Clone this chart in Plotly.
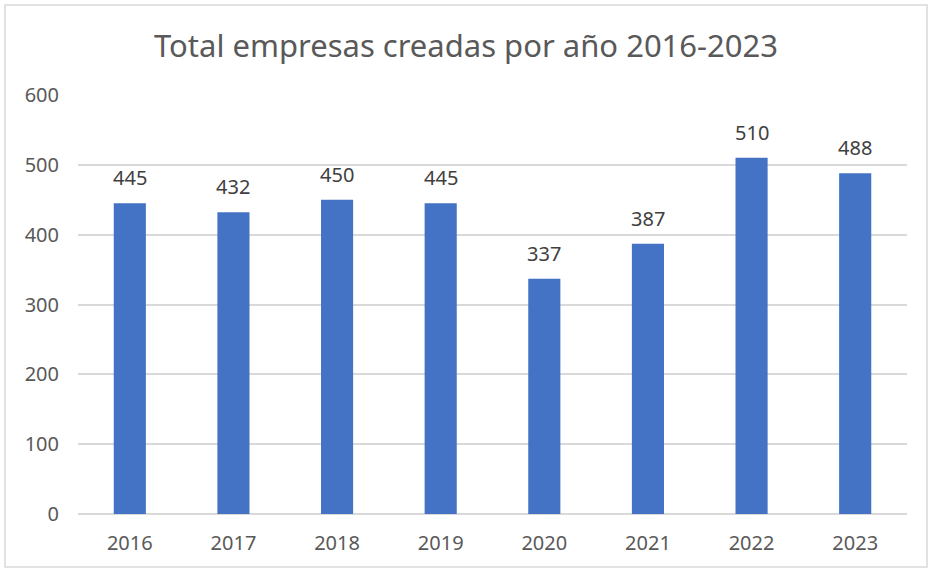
import plotly.graph_objects as go

years = ["2016", "2017", "2018", "2019", "2020", "2021", "2022", "2023"]
empresas = [445, 432, 450, 445, 337, 387, 510, 488]
y_ticks = [0, 100, 200, 300, 400, 500, 600]

W, H = 932, 571
L, R, T, B = 78, 25, 95, 57
pw, ph = W - L - R, H - T - B

def px_x(p):
    return (p - L) / pw

def px_y(p):
    return (H - B - p) / ph

fig = go.Figure(go.Bar(
    x=years, y=empresas,
    marker=dict(color="#4472C4", line=dict(width=0)),
    width=0.31,
    hoverinfo="x+y",
))

# category axis: annotation x uses the category index
for i, v in enumerate(empresas):
    fig.add_annotation(x=i, y=v, text=str(v), showarrow=False,
                       yanchor="bottom", yshift=10,
                       font=dict(size=20, color="#404040", family="Noto Sans"))

fig.update_layout(
    width=W, height=H,
    margin=dict(l=L, r=R, t=T, b=B),
    paper_bgcolor="white", plot_bgcolor="white",
    title=dict(text="Total empresas creadas por año 2016-2023",
               x=0.5, xanchor="center", y=1 - 46 / H, yanchor="middle",
               font=dict(size=31, color="#595959", family="Noto Sans")),
    font=dict(family="Noto Sans", color="#595959"),
    showlegend=False,
    xaxis=dict(type="category", range=[-0.5, len(years) - 0.5], showgrid=False, showline=False,
               ticks="", tickfont=dict(size=20, color="#595959"), ticklabelstandoff=15),
    yaxis=dict(range=[0, 600], tickvals=y_ticks, showgrid=True, gridcolor="#d9d9d9", gridwidth=1.5,
               zeroline=True, zerolinecolor="#d9d9d9", zerolinewidth=1.5,
               showline=False, ticks="", tickfont=dict(size=20, color="#595959"),
               ticklabelstandoff=18),
    shapes=[dict(type="rect", xref="paper", yref="paper",
                 x0=px_x(5), x1=px_x(927), y0=px_y(567), y1=px_y(5),
                 line=dict(color="#d9d9d9", width=1.5), layer="below")],
)

fig.write_html("out.html", config={"displayModeBar": False},
               post_script="document.body.style.margin='0';")
